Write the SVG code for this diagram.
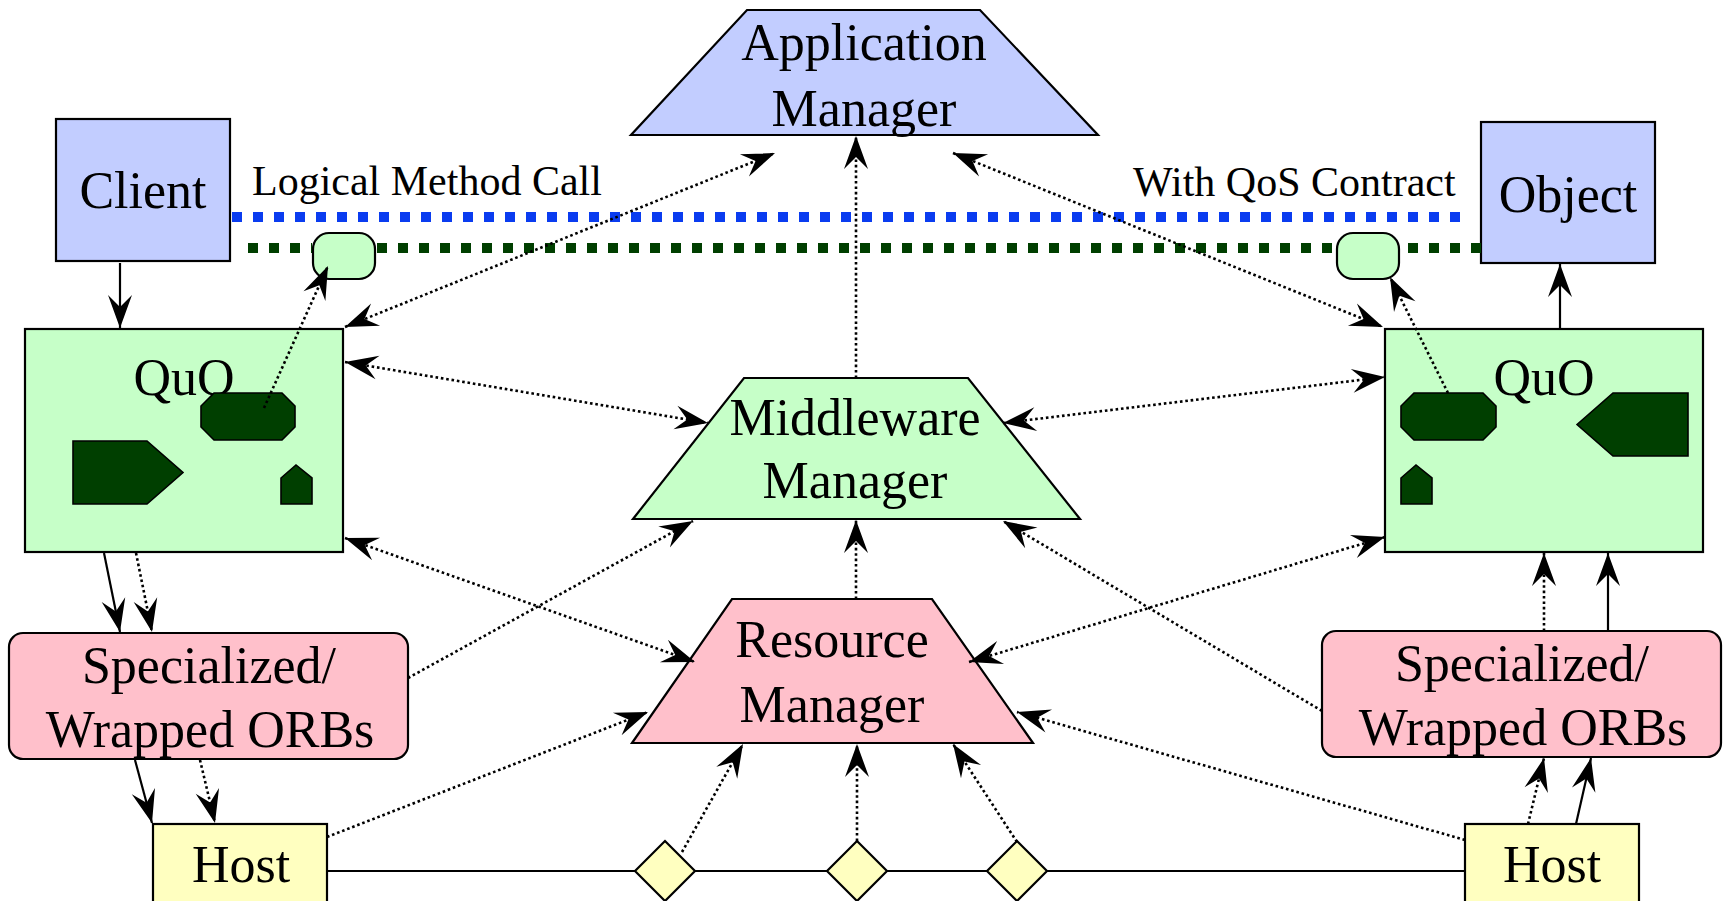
<svg xmlns="http://www.w3.org/2000/svg" width="1724" height="901" viewBox="0 0 1724 901">
  <style>
    .lbl { font-family: "Liberation Serif", "Times New Roman", serif; font-size: 52px; fill: #000; text-anchor: middle; }
    .cap { font-family: "Liberation Serif", "Times New Roman", serif; font-size: 42px; fill: #000; }
    .box { stroke: #000; stroke-width: 2.2; }
    .blue { fill: #c2cdff; }
    .green { fill: #c6ffc8; }
    .pink { fill: #ffc0cb; }
    .yellow { fill: #ffffc0; }
    .dark { fill: #003f00; stroke: #000; stroke-width: 1.6; }
    .solid { fill: none; stroke: #000; stroke-width: 2.2; }
    .dot { fill: none; stroke: #000; stroke-width: 2.6; stroke-dasharray: 2.6 2.8; }
    .one { marker-end: url(#ah); }
    .two { marker-start: url(#ah); marker-end: url(#ah); }
    .qos-b { fill: none; stroke: #0a3cf0; stroke-width: 10; stroke-dasharray: 10 11; }
    .qos-g { fill: none; stroke: #003f00; stroke-width: 10; stroke-dasharray: 10 11; }
  </style>
  <defs>
    <marker id="ah" viewBox="-36 -14 38 28" refX="0" refY="0" markerWidth="38" markerHeight="28" markerUnits="userSpaceOnUse" orient="auto-start-reverse">
      <path d="M0,0 L-33,-12 L-21,0 L-33,12 Z" fill="#000"/>
    </marker>
  </defs>
  <rect width="1724" height="901" fill="#fff"/>

  <g id="application-manager">
    <polygon class="box blue" points="747,10 980,10 1098,135 631,135"/>
    <text class="lbl" x="864" y="60">Application</text>
    <text class="lbl" x="864" y="126">Manager</text>
  </g>

  <g id="client">
    <rect class="box blue" x="56" y="119" width="174" height="142"/>
    <text class="lbl" x="143" y="208">Client</text>
  </g>

  <g id="object">
    <rect class="box blue" x="1481" y="122" width="174" height="141"/>
    <text class="lbl" x="1568" y="212">Object</text>
  </g>

  <g id="contract-left">
    <rect class="box green" x="313" y="233" width="62" height="46" rx="16"/>
  </g>
  <g id="contract-right">
    <rect class="box green" x="1337" y="233" width="62" height="46" rx="16"/>
  </g>

  <g id="quo-left">
    <rect class="box green" x="25" y="329" width="318" height="223"/>
    <text class="lbl" x="184" y="395">QuO</text>
    <polygon class="dark" points="214,393 282,393 295,406 295,427 282,440 214,440 201,427 201,406"/>
    <polygon class="dark" points="73,441 147,441 183,472.5 147,504 73,504"/>
    <polygon class="dark" points="281,478 296,465 312,478 312,504 281,504"/>
  </g>

  <g id="quo-right">
    <rect class="box green" x="1385" y="329" width="318" height="223"/>
    <text class="lbl" x="1544" y="395">QuO</text>
    <polygon class="dark" points="1414,393 1483,393 1496,406 1496,427 1483,440 1414,440 1401,427 1401,406"/>
    <polygon class="dark" points="1577,424.5 1613,393 1688,393 1688,456 1613,456"/>
    <polygon class="dark" points="1401,478 1416,465 1432,478 1432,504 1401,504"/>
  </g>

  <g id="middleware-manager">
    <polygon class="box green" points="744,378 968,378 1080,519 633,519"/>
    <text class="lbl" x="855" y="435">Middleware</text>
    <text class="lbl" x="855" y="498">Manager</text>
  </g>

  <g id="resource-manager">
    <polygon class="box pink" points="732,599 932,599 1033,743 632,743"/>
    <text class="lbl" x="832" y="657">Resource</text>
    <text class="lbl" x="832" y="722">Manager</text>
  </g>

  <g id="orbs-left">
    <rect class="box pink" x="9" y="633" width="399" height="126" rx="14"/>
    <text class="lbl" x="209" y="683">Specialized/</text>
    <text class="lbl" x="210" y="747">Wrapped ORBs</text>
  </g>

  <g id="orbs-right">
    <rect class="box pink" x="1322" y="631" width="399" height="126" rx="14"/>
    <text class="lbl" x="1522" y="681">Specialized/</text>
    <text class="lbl" x="1523" y="745">Wrapped ORBs</text>
  </g>

  <g id="host-left">
    <rect class="box yellow" x="153" y="824" width="174" height="100"/>
    <text class="lbl" x="241" y="882">Host</text>
  </g>

  <g id="host-right">
    <rect class="box yellow" x="1465" y="824" width="174" height="100"/>
    <text class="lbl" x="1552" y="882">Host</text>
  </g>

  <g id="link-1">
    <polygon class="box yellow" points="665,841 695,871 665,901 635,871"/>
  </g>
  <g id="link-2">
    <polygon class="box yellow" points="857,841 887,871 857,901 827,871"/>
  </g>
  <g id="link-3">
    <polygon class="box yellow" points="1017,841 1047,871 1017,901 987,871"/>
  </g>

  <text class="cap" x="252" y="195">Logical Method Call</text>
  <text class="cap" x="1133" y="196">With QoS Contract</text>

  <g id="connectors">
    <!-- logical call and QoS contract lines -->
    <line class="qos-b" x1="232" y1="217" x2="1464" y2="217"/>
    <line class="qos-g" x1="248" y1="248" x2="312" y2="248"/>
    <line class="qos-g" x1="377" y1="248" x2="1336" y2="248"/>
    <line class="qos-g" x1="1408" y1="248" x2="1481" y2="248"/>

    <!-- network between hosts -->
    <line class="solid" x1="327" y1="871" x2="635" y2="871"/>
    <line class="solid" x1="695" y1="871" x2="827" y2="871"/>
    <line class="solid" x1="887" y1="871" x2="987" y2="871"/>
    <line class="solid" x1="1047" y1="871" x2="1465" y2="871"/>

    <!-- solid call path -->
    <line class="solid one" x1="120" y1="263" x2="120" y2="328"/>
    <line class="solid one" x1="1560" y1="329" x2="1560" y2="264"/>
    <line class="solid one" x1="104" y1="553" x2="120" y2="632"/>
    <line class="solid one" x1="135" y1="760" x2="152" y2="823"/>
    <line class="solid one" x1="1576" y1="824" x2="1591" y2="758"/>
    <line class="solid one" x1="1608" y1="631" x2="1608" y2="553"/>

    <!-- dotted control path -->
    <line class="dot one" x1="136" y1="553" x2="152" y2="632"/>
    <line class="dot one" x1="200" y1="760" x2="215" y2="823"/>
    <line class="dot one" x1="1528" y1="824" x2="1544" y2="758"/>
    <line class="dot one" x1="1544" y1="631" x2="1544" y2="553"/>

    <line class="dot one" x1="264" y1="408" x2="328" y2="266"/>
    <line class="dot one" x1="1448" y1="393" x2="1390" y2="277"/>

    <line class="dot two" x1="345" y1="327" x2="775" y2="153"/>
    <line class="dot two" x1="345" y1="362" x2="708" y2="423"/>
    <line class="dot two" x1="345" y1="538" x2="695" y2="662"/>
    <line class="dot two" x1="953" y1="153" x2="1383" y2="327"/>
    <line class="dot two" x1="1003" y1="423" x2="1385" y2="377"/>
    <line class="dot two" x1="969" y1="662" x2="1385" y2="537"/>

    <line class="dot one" x1="856" y1="378" x2="856" y2="136"/>
    <line class="dot one" x1="856" y1="599" x2="856" y2="520"/>
    <line class="dot one" x1="408" y1="678" x2="693" y2="521"/>
    <line class="dot one" x1="1322" y1="711" x2="1003" y2="521"/>
    <line class="dot one" x1="327" y1="837" x2="648" y2="712"/>
    <line class="dot one" x1="1465" y1="840" x2="1017" y2="712"/>
    <line class="dot one" x1="682" y1="852" x2="743" y2="744"/>
    <line class="dot one" x1="857" y1="841" x2="857" y2="744"/>
    <line class="dot one" x1="1017" y1="842" x2="953" y2="744"/>
  </g>
</svg>
